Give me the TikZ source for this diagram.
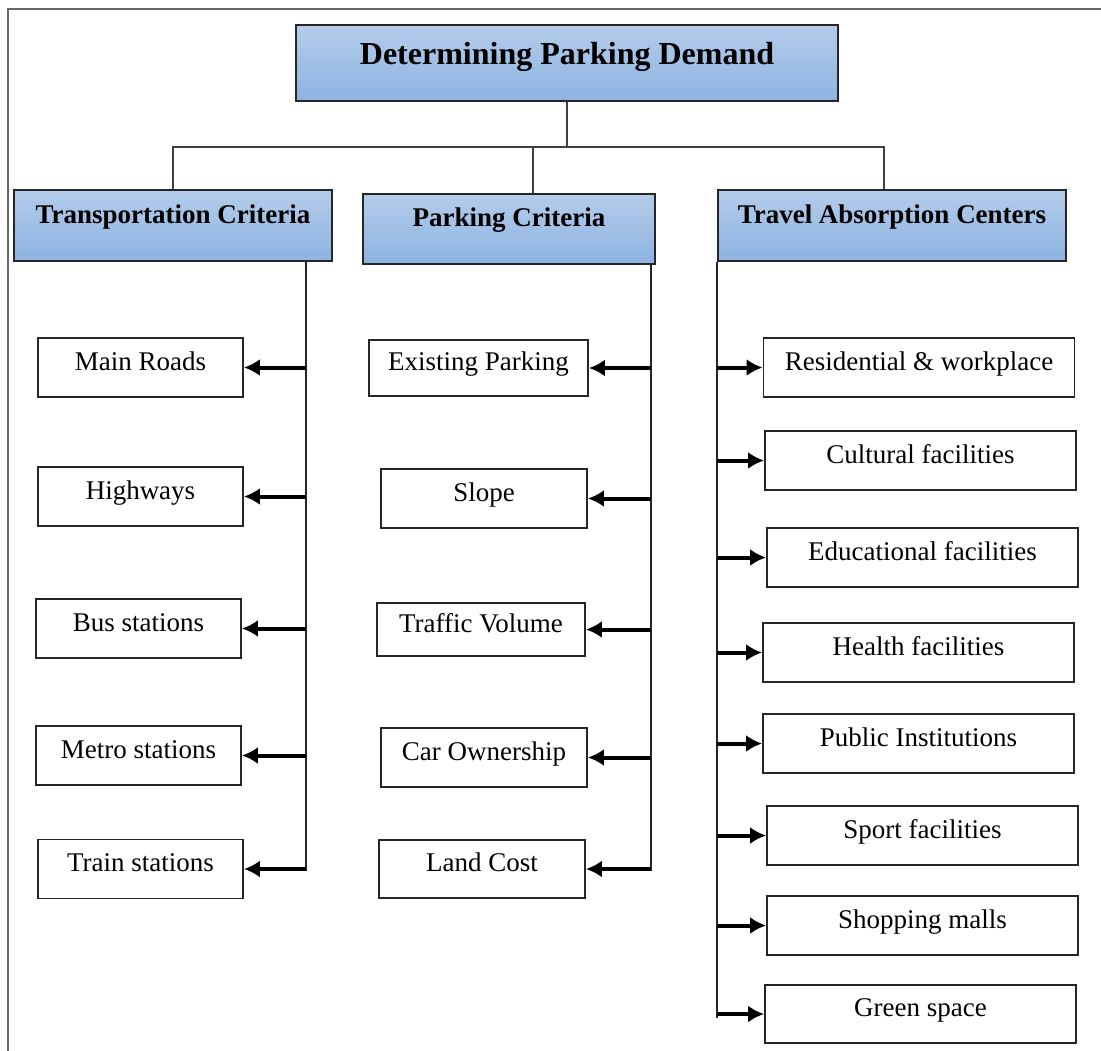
\documentclass[tikz,border=0pt]{standalone}
\usepackage{fontspec}
\setmainfont{Liberation Serif}
\usetikzlibrary{arrows.meta,shapes,positioning}
\definecolor{skyblue}{RGB}{180,204,234}
\definecolor{steelblue}{RGB}{141,179,226}

\begin{document}
\begin{tikzpicture}[x=1pt,y=1pt,on grid,
    critbox/.style={draw=black!85,line width=1.8pt,top color=skyblue,bottom color=steelblue,font=\fontsize{27}{30}\selectfont\bfseries,text height=19pt,text depth=23pt,minimum height=71pt},
    itembox/.style={draw=black!85,line width=1.8pt,fill=white,font=\fontsize{27}{30}\selectfont,text height=19pt,text depth=14pt,minimum height=59pt,minimum width=205pt},
    widebox/.style={itembox,minimum width=311pt},
    tree/.style={draw=black!75,line width=1.8pt},
    trunk/.style={draw=black!85,line width=2.2pt},
    arrow/.style={-{Latex[length=16pt,width=17pt]},line width=4pt}]
        \useasboundingbox (0,0) rectangle (1101,-1051);
        \draw[black!60,line width=1.5pt] (8,-1051) -- (8,-9) -- (1101,-9);

        \node[critbox,minimum width=542pt,minimum height=76pt,font=\fontsize{32}{35}\selectfont\bfseries,text height=22pt,text depth=18pt] (dpd) at (567,-63) {Determining Parking Demand};
        \node[critbox,minimum width=318pt]                    (tc) at (173,-225.5) {Transportation Criteria};
        \node[critbox,minimum width=292pt,minimum height=70pt] (pc) at (509,-229)   {Parking Criteria};
        \node[critbox,minimum width=348pt]                    (ac) at (892,-225.5) {Travel Absorption Centers};

        % transportation criteria
        \node[itembox]          (t_1) at (140.5,-367.5)  {Main Roads};
        \node[itembox]          (t_2) [below=129pt of t_1]         {Highways};
        \node[itembox]          (t_3) [below left=132pt and 2pt of t_2] {Bus stations};
        \node[itembox]          (t_4) [below=127pt of t_3]         {Metro stations};
        \node[itembox]          (t_5) [below right=113.5pt and 2pt of t_4] {Train stations};

        % parking criteria
        \node[itembox,minimum width=219pt,minimum height=56pt] (p_1) at (478.5,-368) {Existing Parking};
        \node[itembox,minimum width=206pt]                    (p_2) at (484,-498.5)  {Slope};
        \node[itembox,minimum width=208pt,minimum height=53pt] (p_3) at (481,-629.5)  {Traffic Volume};
        \node[itembox,minimum width=206pt]                    (p_4) at (484,-757.5)  {Car Ownership};
        \node[itembox,minimum width=206pt,minimum height=58pt] (p_5) at (482,-869)    {Land Cost};

        % travel absorption centers
        \node[widebox]          (a_1) at (919,-367.5)  {Residential \& workplace};
        \node[widebox]          (a_2) at (920.5,-460.5) {Cultural facilities};
        \node[widebox]          (a_3) at (922.5,-557.5) {Educational facilities};
        \node[widebox]          (a_4) at (918.5,-652.5) {Health facilities};
        \node[widebox]          (a_5) at (918.5,-743.5) {Public Institutions};
        \node[widebox]          (a_6) at (922.5,-835.5) {Sport facilities};
        \node[widebox]          (a_7) at (922.5,-925.5) {Shopping malls};
        \node[widebox,minimum height=58pt] (a_8) at (920.5,-1014) {Green space};

        % tree under the title
        \draw[tree] (dpd.south) -- ++(0,-45) coordinate (fork);
        \draw[tree] (fork) -| (tc.north);
        \draw[tree] (fork) -| ([xshift=24pt]pc.north);
        \draw[tree] (fork) -| ([xshift=-8pt]ac.north);

        % trunks
        \coordinate (lt) at ([xshift=-27pt]tc.south east);
        \coordinate (mt) at ([xshift=-5pt]pc.south east);
        \coordinate (rt) at (ac.south west);
        \draw[trunk] (lt) -- ([yshift=-2pt]lt |- t_5.east);
        \draw[trunk] (mt) -- ([yshift=-2pt]mt |- p_5.east);
        \draw[trunk] (rt) -- ([yshift=-4pt]rt |- a_8.west);

        \path[arrow] (t_1.east -| lt) edge (t_1.east)
                     (t_2.east -| lt) edge (t_2.east)
                     (t_3.east -| lt) edge (t_3.east)
                     (t_4.east -| lt) edge (t_4.east)
                     (t_5.east -| lt) edge (t_5.east)
                     (p_1.east -| mt) edge (p_1.east)
                     (p_2.east -| mt) edge (p_2.east)
                     (p_3.east -| mt) edge (p_3.east)
                     (p_4.east -| mt) edge (p_4.east)
                     (p_5.east -| mt) edge (p_5.east)
                     (a_1.west -| rt) edge (a_1.west)
                     (a_2.west -| rt) edge (a_2.west)
                     (a_3.west -| rt) edge (a_3.west)
                     (a_4.west -| rt) edge (a_4.west)
                     (a_5.west -| rt) edge (a_5.west)
                     (a_6.west -| rt) edge (a_6.west)
                     (a_7.west -| rt) edge (a_7.west)
                     (a_8.west -| rt) edge (a_8.west);
\end{tikzpicture}
\end{document}
